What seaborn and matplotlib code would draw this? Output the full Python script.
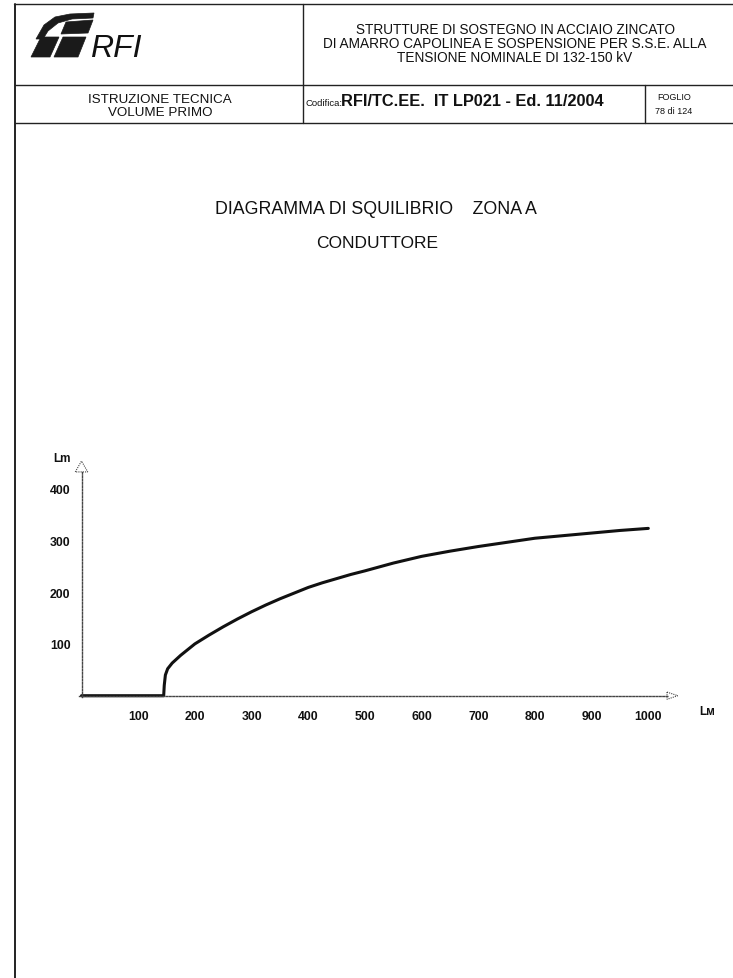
import matplotlib
matplotlib.use("Agg")
import matplotlib.pyplot as plt
from matplotlib.lines import Line2D
from matplotlib.patches import Polygon
import seaborn as sns
import pandas as pd

sns.set_theme(style="white")
plt.rcParams["font.family"] = ["Liberation Sans", "DejaVu Sans"]

# Unbalance curve: span length Lм vs equivalent length Lm
span_lm = [0, 145, 146, 148, 152, 160, 175, 200, 225, 250, 275, 300, 325, 350,
           375, 400, 425, 450, 475, 500, 550, 600, 650, 700, 750, 800, 850,
           900, 950, 1000]
equiv_lm = [0, 0, 20, 40, 52, 63, 78, 100, 117, 133, 148, 162, 175, 187,
            198, 209, 218, 226, 234, 241, 256, 269, 279, 288, 296, 304, 309,
            314, 319, 323]
x_ticks = [100, 200, 300, 400, 500, 600, 700, 800, 900, 1000]
y_ticks = [100, 200, 300, 400]

header_title = ["STRUTTURE DI SOSTEGNO IN ACCIAIO ZINCATO",
                "DI AMARRO CAPOLINEA E SOSPENSIONE PER S.S.E. ALLA",
                "TENSIONE NOMINALE DI 132-150 kV"]

W, H = 733, 979
fig = plt.figure(figsize=(W / 100, H / 100), dpi=100)
fig.patch.set_facecolor("white")
INK = "#111111"


def fx(px):
    return px / W


def fy(py):
    return 1 - py / H


def hline(y, x0, x1, lw=1.0):
    fig.add_artist(Line2D([fx(x0), fx(x1)], [fy(y), fy(y)], color="#222222", lw=lw))


def vline(x, y0, y1, lw=1.0):
    fig.add_artist(Line2D([fx(x), fx(x)], [fy(y0), fy(y1)], color="#222222", lw=lw))


# title block frame
hline(5, 14, 733)
hline(86, 15, 733)
hline(124, 15, 733)
vline(15, 5, 979, lw=1.4)
vline(303, 5, 124)
vline(645, 86, 124)

# logo
logo_shapes = [
    [(36, 40), (44, 26), (55, 18), (70, 15), (94, 14), (93, 19), (72, 20), (58, 24), (48, 32), (43, 40)],
    [(66, 23), (93, 21), (88, 34), (61, 35)],
    [(31, 58), (50, 58), (59, 38), (41, 38)],
    [(54, 58), (78, 58), (86, 38), (63, 38)],
]
for pts in logo_shapes:
    fig.add_artist(Polygon([(fx(a), fy(b)) for a, b in pts], closed=True,
                           facecolor="#1a1a1a", edgecolor="#1a1a1a", lw=0.5))
fig.text(fx(90), fy(49), "RFI", fontsize=23, style="italic", color=INK,
         ha="left", va="center")

for i, line in enumerate(header_title):
    fig.text(fx(515), fy(30 + 14 * i), line, fontsize=9.8, ha="center", va="center",
             color=INK)

fig.text(fx(160), fy(100), "ISTRUZIONE TECNICA", fontsize=9.6, ha="center", va="center",
         color=INK)
fig.text(fx(160), fy(113), "VOLUME PRIMO", fontsize=9.6, ha="center", va="center",
         color=INK)
fig.text(fx(305), fy(103), "Codifica:", fontsize=6.8, ha="left", va="center", color=INK)
fig.text(fx(341), fy(102), "RFI/TC.EE.  IT LP021 - Ed. 11/2004", fontsize=11.8,
         fontweight="bold", ha="left", va="center", color=INK)
fig.text(fx(674), fy(98), "FOGLIO", fontsize=6.5, ha="center", va="center", color=INK)
fig.text(fx(674), fy(111), "78 di 124", fontsize=6.5, ha="center", va="center", color=INK)

# chart title
fig.text(fx(376), fy(210), "DIAGRAMMA DI SQUILIBRIO    ZONA A", fontsize=12.8,
         ha="center", va="center", color=INK)
fig.text(fx(377), fy(244), "CONDUTTORE", fontsize=12.5, ha="center", va="center",
         color=INK)

# chart axes: 0 -> px 81.5, 1000 -> px 648.3 ; y 0 -> px 696.7, 400 -> px 489.5
x0p, xs = 81.5, 0.5668
y0p, ys = 696.7, 0.518
ax_l, ax_r, ax_t, ax_b = 40, 700, 440, 745
ax = fig.add_axes([fx(ax_l), fy(ax_b), (ax_r - ax_l) / W, (ax_b - ax_t) / H])
ax.set_xlim((ax_l - x0p) / xs, (ax_r - x0p) / xs)
ax.set_ylim((y0p - ax_b) / ys, (y0p - ax_t) / ys)
ax.set_facecolor("none")

df = pd.DataFrame({"Lм": span_lm, "Lm": equiv_lm})
sns.lineplot(data=df, x="Lм", y="Lm", ax=ax, color=INK, lw=2.2, sort=False,
             estimator=None)
for ln in ax.get_lines():
    ln.set_solid_joinstyle("round")
    ln.set_solid_capstyle("round")

for side in ["top", "right"]:
    ax.spines[side].set_visible(False)
ax.spines["bottom"].set_position(("data", 0))
ax.spines["left"].set_position(("data", 0))
ax.spines["bottom"].set_bounds(-5, 1035)
ax.spines["left"].set_bounds(-3, 432)
for side in ["bottom", "left"]:
    ax.spines[side].set_linestyle((0, (1.2, 1.2)))
    ax.spines[side].set_linewidth(1.0)
    ax.spines[side].set_color("#444444")

ax.set_xticks(x_ticks)
ax.set_xticklabels([str(v) for v in x_ticks])
ax.set_yticks(y_ticks)
ax.set_yticklabels([str(v) for v in y_ticks])
ax.tick_params(axis="both", length=0, labelsize=8.8, colors=INK)
ax.tick_params(axis="x", pad=10)
ax.tick_params(axis="y", pad=8)
for lab in ax.get_xticklabels() + ax.get_yticklabels():
    lab.set_fontweight("bold")
ax.set_xlabel("")
ax.set_ylabel("")

# open arrow heads at the axis ends
ax.add_patch(Polygon([(1033, 7), (1052, 0), (1033, -7)], closed=True, fill=False,
                     edgecolor="#444444", lw=0.8, linestyle=(0, (1, 1)), clip_on=False))
ax.add_patch(Polygon([(-11, 432), (0, 453), (11, 432)], closed=True, fill=False,
                     edgecolor="#444444", lw=0.8, linestyle=(0, (1, 1)), clip_on=False))

ax.text(1090, -29, "Lм", fontsize=8.5, fontweight="bold", ha="left", va="center",
        color=INK)
ax.text(-50, 458, "Lm", fontsize=8.5, fontweight="bold", ha="left", va="center",
        color=INK)

fig.savefig("out.png", dpi=100, facecolor="white")
